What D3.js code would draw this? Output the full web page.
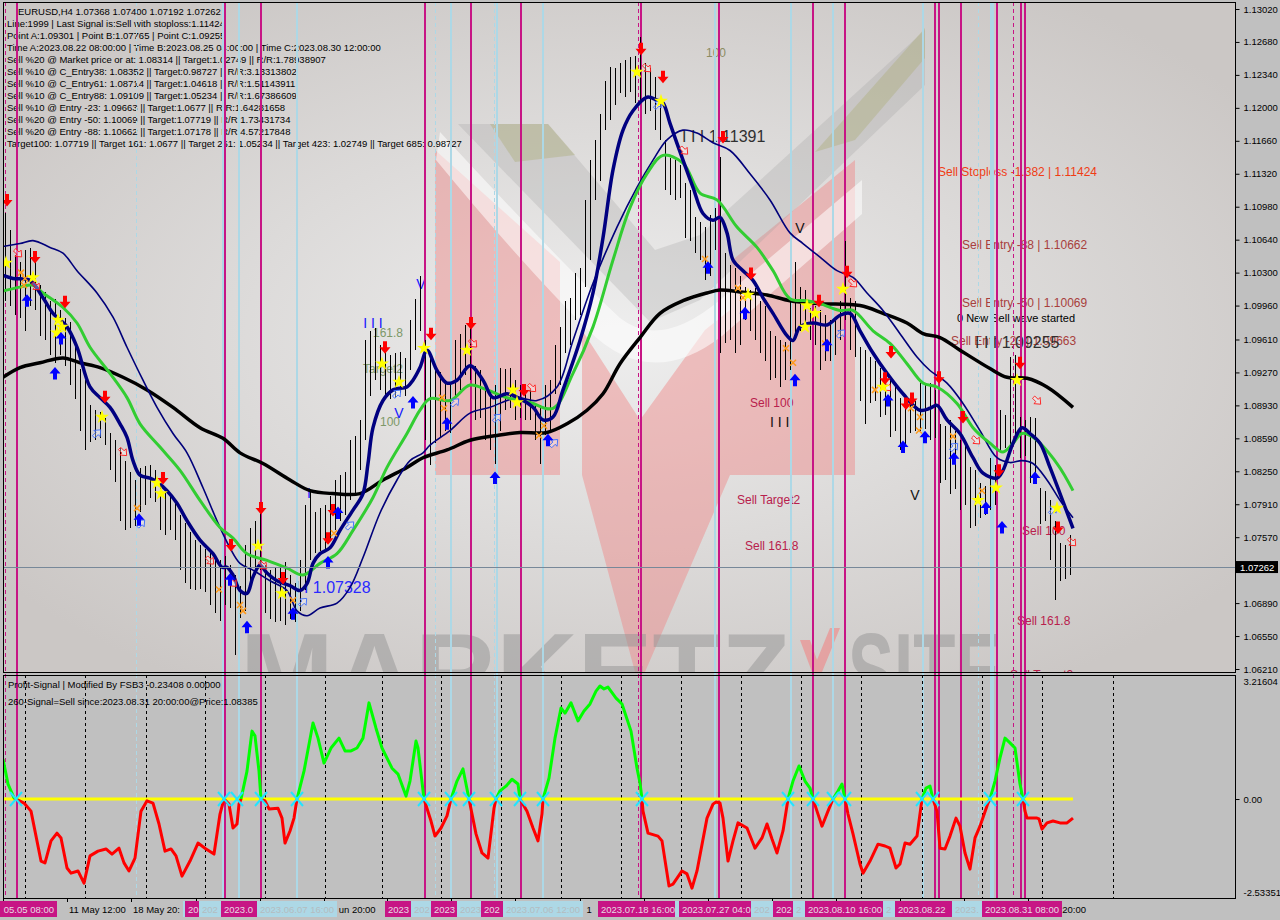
<!DOCTYPE html>
<html>
<head>
<meta charset="utf-8">
<script src="https://cdn.jsdelivr.net/npm/d3@7"></script>
<style>
  body { margin: 0; background: #c0c0c0; }
  svg { display: block; font-family: "Liberation Sans", Arial, sans-serif; }
</style>
</head>
<body>
<div id="chart"></div>
<script>
// ---- price bars (H4, EURUSD), one entry per drawn bar ----
const barHigh = [
  1.1092,1.1074,1.1048,1.1041,1.1053,1.1055,1.1045,1.1017,1.1010,1.1001,
  1.1003,1.0991,1.0983,1.0979,1.0955,1.0931,1.0919,1.0893,1.0888,1.0886,
  1.0880,1.0865,1.0857,1.0849,1.0836,1.0824,1.0816,1.0828,1.0830,1.0831,
  1.0826,1.0814,1.0805,1.0800,1.0795,1.0780,1.0772,1.0762,1.0754,1.0749,
  1.0745,1.0741,1.0735,1.0733,1.0738,1.0728,1.0718,1.0707,1.0749,1.0766,
  1.0774,1.0788,1.0728,1.0723,1.0725,1.0728,1.0731,1.0718,1.0710,1.0733,
  1.0790,1.0805,1.0783,1.0787,1.0790,1.0800,1.0816,1.0821,1.0824,1.0857,
  1.0861,1.0878,1.0960,1.0970,1.0973,1.0955,1.0950,1.0945,1.0947,1.0948,
  1.0942,1.0981,1.1003,1.1027,1.0960,1.0945,1.0929,1.0927,1.0919,1.0917,
  1.0960,1.0967,1.0976,1.0978,1.0934,1.0929,1.0912,1.0909,1.0914,1.0932,
  1.0931,1.0932,1.0919,1.0914,1.0912,1.0909,1.0895,1.0893,1.0914,1.0919,
  1.0955,1.0974,1.1001,1.1004,1.1030,1.1035,1.1105,1.1146,1.1167,1.1194,
  1.1228,1.1242,1.1241,1.1246,1.1249,1.1252,1.1254,1.1273,1.1246,1.1241,
  1.1232,1.1208,1.1167,1.1148,1.1146,1.1141,1.1122,1.1115,1.1087,1.1082,
  1.1077,1.1089,1.1097,1.1149,1.1050,1.1038,1.1035,1.1027,1.1015,1.1012,
  1.1014,1.1001,1.0996,1.0970,1.0965,1.0960,1.0958,1.1001,1.1041,1.1015,
  1.1012,1.0994,1.0996,1.0991,1.0986,1.0981,1.0983,1.1001,1.1063,1.1004,
  1.1001,1.0953,1.0950,1.0943,1.0939,1.0932,1.0929,1.0919,1.0914,1.0901,
  1.0898,1.0901,1.0898,1.0916,1.0914,1.0916,1.0909,1.0874,1.0872,1.0878,
  1.0867,1.0857,1.0852,1.0829,1.0826,1.0813,1.0810,1.0839,1.0831,1.0888,
  1.0883,1.0943,1.0945,1.0881,1.0878,1.0881,1.0880,1.0808,1.0805,1.0795,
  1.0774,1.0751,1.0749,1.0759
];
const barLow = [
  1.1001,1.0996,1.0986,1.0983,1.0970,1.0996,1.0991,1.0965,1.0960,1.0945,
  1.0937,1.0945,1.0934,1.0914,1.0900,1.0867,1.0847,1.0855,1.0857,1.0859,
  1.0852,1.0826,1.0814,1.0774,1.0764,1.0766,1.0769,1.0783,1.0790,1.0797,
  1.0793,1.0764,1.0759,1.0764,1.0754,1.0723,1.0710,1.0704,1.0702,1.0704,
  1.0700,1.0687,1.0679,1.0671,1.0687,1.0684,1.0635,1.0674,1.0681,1.0702,
  1.0718,1.0723,1.0679,1.0673,1.0669,1.0671,1.0666,1.0673,1.0669,1.0681,
  1.0702,1.0733,1.0741,1.0743,1.0745,1.0754,1.0764,1.0774,1.0780,1.0795,
  1.0800,1.0826,1.0857,1.0903,1.0919,1.0909,1.0903,1.0900,1.0902,1.0906,
  1.0903,1.0929,1.0950,1.0970,1.0857,1.0831,1.0854,1.0859,1.0867,1.0864,
  1.0903,1.0909,1.0924,1.0919,1.0878,1.0880,1.0857,1.0847,1.0833,1.0867,
  1.0888,1.0890,1.0878,1.0880,1.0878,1.0878,1.0857,1.0833,1.0862,1.0867,
  1.0905,1.0914,1.0947,1.0955,1.0981,1.0986,1.1015,1.1043,1.1105,1.1125,
  1.1177,1.1187,1.1203,1.1215,1.1211,1.1216,1.1205,1.1208,1.1194,1.1197,
  1.1177,1.1167,1.1115,1.1110,1.1105,1.1107,1.1066,1.1063,1.1050,1.1043,
  1.1022,1.1027,1.1053,1.0947,1.0957,1.0960,1.0947,1.0955,1.0981,1.0970,
  1.0960,1.0947,1.0939,1.0919,1.0921,1.0912,1.0919,1.0929,1.0963,1.0970,
  1.0973,1.0960,1.0955,1.0929,1.0939,1.0939,1.0945,1.0960,1.0981,1.0950,
  1.0943,1.0898,1.0874,1.0895,1.0898,1.0881,1.0883,1.0860,1.0867,1.0847,
  1.0852,1.0864,1.0867,1.0867,1.0869,1.0857,1.0859,1.0813,1.0816,1.0802,
  1.0807,1.0785,1.0790,1.0767,1.0769,1.0777,1.0780,1.0785,1.0790,1.0847,
  1.0849,1.0847,1.0857,1.0839,1.0841,1.0813,1.0816,1.0771,1.0774,1.0733,
  1.0692,1.0712,1.0714,1.0718
];
const lastPrice = 1.07262;

// ---- moving averages: [bar, price] ----
const maFast = [
  [-0.4,1.1027],[1.6,1.1024],[5,1.1022],[7.6,1.1004],[9.6,1.0988],[12.4,1.0974],[14.4,1.0953],
  [17,1.0912],[19,1.0901],[21,1.0891],[23,1.0874],[24.4,1.0860],[25.6,1.0836],[27,1.0821],
  [29,1.0818],[30.4,1.0814],[32.4,1.0805],[34.4,1.0792],[36.4,1.0774],[39,1.0754],[41.6,1.0740],
  [43.4,1.0726],[44.4,1.0726],[45.6,1.0718],[47,1.0702],[48.4,1.0699],[49.6,1.0716],[51,1.0728],
  [52.4,1.0720],[54.4,1.0712],[57,1.0707],[59,1.0702],[60.4,1.0709],[61.6,1.0730],[63,1.0740],
  [65,1.0746],[67,1.0764],[69.6,1.0785],[71.6,1.0802],[72.6,1.0833],[73.6,1.0870],[75.6,1.0898],
  [77.6,1.0909],[80.4,1.0912],[81.6,1.0919],[83,1.0932],[84.4,1.0950],[86.4,1.0929],[88.4,1.0916],
  [90.4,1.0919],[93,1.0934],[95.6,1.0919],[97.6,1.0901],[100.4,1.0905],[102.6,1.0901],[105.6,1.0891],
  [107.6,1.0878],[109.6,1.0881],[111.6,1.0909],[115,1.0960],[117.6,1.1009],[119.6,1.1066],
  [121.6,1.1136],[123.6,1.1177],[125.6,1.1197],[128.4,1.1211],[130.4,1.1208],[131.6,1.1205],
  [133,1.1184],[135.6,1.1146],[137.6,1.1118],[139.6,1.1091],[141.6,1.1084],[143,1.1087],
  [144.4,1.1071],[145.6,1.1043],[147.6,1.1032],[149.6,1.1022],[151.6,1.1004],[153.6,1.0988],
  [156.4,1.0965],[157.6,1.0960],[159,1.0974],[161.6,1.0978],[164.4,1.0976],[167,1.0986],
  [169,1.0988],[171,1.0970],[173.6,1.0947],[176.4,1.0926],[179.6,1.0905],[183,1.0888],
  [185,1.0890],[186.4,1.0893],[188.4,1.0878],[191,1.0864],[193.6,1.0839],[195.6,1.0823],
  [198.4,1.0818],[199.6,1.0826],[201.6,1.0854],[203.4,1.0870],[205,1.0864],[207,1.0854],
  [209,1.0829],[211,1.0802],[213.6,1.0766]
];
const maMid = [
  [-0.4,1.1011],[3,1.1015],[5.6,1.1017],[7.6,1.1009],[11.6,1.0994],[14.4,1.0978],[17,1.0953],
  [21,1.0926],[24.4,1.0901],[27,1.0874],[31,1.0850],[35,1.0826],[39,1.0795],[43,1.0767],
  [45.6,1.0756],[48.4,1.0740],[52.4,1.0733],[56.4,1.0725],[59.6,1.0718],[63,1.0730],[66.4,1.0740],
  [69.6,1.0764],[73.6,1.0798],[76.4,1.0829],[80.4,1.0864],[83,1.0888],[85,1.0900],[89,1.0898],
  [93,1.0914],[96.4,1.0909],[100.4,1.0901],[105,1.0896],[109.6,1.0890],[113.6,1.0926],
  [117.6,1.0974],[121.6,1.1043],[125,1.1097],[128.4,1.1132],[131.6,1.1151],[135.6,1.1143],
  [139,1.1112],[142.4,1.1105],[146.4,1.1077],[150.4,1.1056],[153.6,1.1032],[157,1.1003],
  [160.4,1.1001],[163,1.0998],[167,1.0991],[169.6,1.0991],[173.6,1.0970],[177,1.0957],
  [180.4,1.0936],[183.6,1.0916],[186.4,1.0912],[190.4,1.0895],[193.6,1.0870],[197,1.0854],
  [199.6,1.0845],[201.6,1.0854],[203.4,1.0864],[205.6,1.0860],[210.4,1.0833],[213.6,1.0805]
];
const maBand = [
  [-0.4,1.1057],[3,1.1060],[5.6,1.1063],[9,1.1056],[11.6,1.1050],[14.4,1.1032],[18.4,1.1009],
  [21.6,1.0984],[24.4,1.0953],[27.6,1.0919],[30.4,1.0891],[33.6,1.0864],[36.4,1.0844],
  [39.6,1.0808],[42.4,1.0774],[45,1.0746],[47,1.0730],[49.6,1.0723],[53,1.0712],[56.4,1.0702],
  [58.4,1.0681],[60.4,1.0676],[63,1.0684],[66.4,1.0689],[69,1.0705],[71.6,1.0736],[75,1.0782],
  [78.4,1.0816],[81,1.0836],[83.6,1.0844],[85,1.0852],[89,1.0867],[93,1.0885],[97,1.0891],
  [102.4,1.0901],[106.4,1.0898],[110.4,1.0912],[113.6,1.0960],[117.6,1.1019],[122.4,1.1077],
  [126.4,1.1118],[129.6,1.1146],[132.4,1.1167],[135.6,1.1177],[138.4,1.1174],[141.6,1.1164],
  [145,1.1156],[149,1.1132],[153,1.1105],[157,1.1071],[159.6,1.1060],[163,1.1046],[166.4,1.1032],
  [169.6,1.1025],[172.4,1.1009],[175.6,1.0991],[179,1.0967],[182.4,1.0943],[185,1.0929],
  [188.4,1.0916],[191.6,1.0895],[195,1.0867],[198.4,1.0839],[201,1.0834],[203.4,1.0836],
  [205.6,1.0833],[208.4,1.0816],[211,1.0795],[213.6,1.0777]
];
const maSlow = [
  [-0.4,1.0922],[3,1.0932],[7,1.0937],[11.6,1.0942],[15,1.0937],[19,1.0932],[23.6,1.0922],
  [28.4,1.0909],[33.6,1.0891],[39,1.0870],[43.6,1.0859],[47,1.0844],[51.6,1.0833],[57,1.0816],
  [61,1.0805],[65.6,1.0802],[71,1.0802],[75.6,1.0816],[80.4,1.0829],[83.6,1.0839],[88.4,1.0847],
  [93,1.0857],[98.4,1.0862],[103,1.0865],[108.4,1.0865],[112.4,1.0874],[116.4,1.0888],
  [119.6,1.0905],[123,1.0936],[127,1.0963],[131,1.0988],[135.6,1.1001],[140.4,1.1009],
  [143,1.1012],[147,1.1010],[152.4,1.1007],[157,1.1001],[163,1.0998],[171,1.0996],
  [175.6,1.0988],[180.4,1.0978],[183.6,1.0967],[187,1.0963],[191,1.0950],[197,1.0931],
  [200.4,1.0922],[204.4,1.0921],[208.4,1.0912],[213.6,1.0891]
];

// ---- signal markers: [bar, price] ----
const sellArrows = [
  [0.4,1.1105],[6,1.1046],[12,1.1000],[20,1.0902],[31.6,1.0818],[45.2,1.0749],[51.2,1.0787],
  [55.6,1.0715],[64.6,1.0756],[65.6,1.0785],[76,1.0953],[85.2,1.0967],[93.2,1.0978],[103.8,1.0909],
  [127.2,1.1261],[131.6,1.1232],[143.6,1.1170],[149.2,1.1029],[162.8,1.1001],[168.4,1.1031],
  [176,1.0921],[177.2,1.0948],[180.2,1.0895],[181.4,1.0900],[186.8,1.0922],[191.6,1.0881],
  [198.8,1.0826],[203,1.0937],[210.6,1.0767]
];
const buyArrows = [
  [4.4,1.1001],[10,1.0926],[11.2,1.0962],[26.8,1.0775],[45,1.0713],[48.4,1.0664],[57.6,1.0678],
  [64.6,1.0731],[66.6,1.0782],[81.6,1.0896],[88.4,1.0874],[98,1.0818],[108.6,1.0857],
  [140.6,1.1035],[148,1.0988],[158,1.0919],[164.4,1.0955],[176.6,1.0898],[179.6,1.0850],
  [184,1.0860],[189.8,1.0838],[196.2,1.0787],[199.4,1.0767],[206,1.0818]
];
const stars = [
  [0.2,1.1040],[5.6,1.1025],[10.6,1.0981],[11.4,1.0974],[10.4,1.0968],[19.4,1.0881],[30.4,1.0813],
  [31.2,1.0802],[50.6,1.0748],[55.4,1.0699],[75.4,1.0936],[78.8,1.0917],[83.8,1.0952],[92.4,1.0950],
  [101.6,1.0909],[102.4,1.0896],[126.4,1.1237],[131.2,1.1207],[148.6,1.1007],[160,1.0974],
  [160.4,1.0996],[162,1.0988],[167.6,1.1013],[175.6,1.0912],[194.6,1.0795],[198.2,1.0808],
  [202.4,1.0919],[210.4,1.0787]
];
const crosses = [
  [3.2,1.1030],[3.8,1.1017],[4,1.1024],[26.4,1.0787],[42.8,1.0703],[47,1.0687],[47.6,1.0681],
  [57.6,1.0692],[65.8,1.0761],[87.4,1.0901],[87.8,1.0890],[106.8,1.0862],[107.8,1.0872],
  [140,1.1044],[146.6,1.1014],[147.6,1.1004],[156.2,1.0952],[157.6,1.0937],[164,1.0957],
  [174,1.0909],[181.2,1.0890],[182.8,1.0867],[183,1.0881],[189.6,1.0861],[195.4,1.0805]
];
const sellHollow = [
  [2.6,1.1050],[6.2,1.1016],[23.6,1.0845],[41,1.0733],[45.6,1.0710],[51.6,1.0728],[93.6,1.0957],
  [105.4,1.0911],[128.4,1.1241],[135.8,1.1156],[169.6,1.1019],[176.4,1.0912],[194.2,1.0857],
  [206.4,1.0898],[213.4,1.0752]
];
const buyHollow = [
  [18.4,1.0864],[27.2,1.0771],[59.6,1.0690],[69,1.0769],[78.4,1.0905],[90,1.0896],[98.4,1.0880],
  [109.8,1.0854],[130.6,1.1203],[167.2,1.0967],[189.8,1.0850],[209.6,1.0785]
];

// ---- chart notes: [bar, price, text, kind] ----
const chartNotes = [
  [142.2,1.1252,"100","olive"],
  [135.4,1.1165,"I I I 1.11391","level"],
  [159,1.1071,"V","mark"],
  [60.8,1.0797,"I","blueMark"],
  [83.2,1.1013,"V","blueMark"],
  [73.6,1.0973,"I I I","blueMark"],
  [76.6,1.0964,"161.8","fibo"],
  [75.6,1.0926,"Target2","fibo"],
  [77,1.0872,"100","fibo"],
  [78.8,1.0880,"V","blueMark"],
  [58,1.0699,"I I 1.07328","blueLevel"],
  [186.6,1.1130,"Sell Stoploss -1.382 | 1.11424","stop"],
  [191.4,1.1054,"Sell Entry -88 | 1.10662","entry"],
  [191.4,1.0995,"Sell Entry -50 | 1.10069","entry"],
  [190.4,1.0979,"0 New Sell wave started","wave"],
  [189.2,1.0955,"Sell Entry -23 | 1.09663","entry"],
  [194,1.0952,"I I I 1.09255","level"],
  [149,1.0891,"Sell 100","sell"],
  [153,1.0871,"I I I","ticks"],
  [146.4,1.0791,"Sell Target2","sell"],
  [148,1.0744,"Sell 161.8","sell"],
  [182,1.0795,"V","mark"],
  [203.4,1.0759,"Sell 100","sell"],
  [202.4,1.0666,"Sell 161.8","sell"],
  [201,1.0611,"Sell Target2","sell"]
];
const noteStyle = {
  olive:     { fill: "#8c8c62", size: 12, anchor: "middle" },
  level:     { fill: "#303030", size: 16, anchor: "start" },
  mark:      { fill: "#111111", size: 14, anchor: "middle" },
  ticks:     { fill: "#111111", size: 14, anchor: "start" },
  blueMark:  { fill: "#1515ff", size: 14, anchor: "middle" },
  blueLevel: { fill: "#2a2aff", size: 16, anchor: "start" },
  fibo:      { fill: "#7d9868", size: 12, anchor: "middle" },
  stop:      { fill: "#f03c14", size: 12, anchor: "start" },
  entry:     { fill: "#a8403c", size: 12, anchor: "start" },
  wave:      { fill: "#000000", size: 11, anchor: "start" },
  sell:      { fill: "#b8204c", size: 12, anchor: "start" }
};

const headerTitle = "EURUSD,H4  1.07368 1.07400 1.07192 1.07262";
const headerLines = [
  "Line:1999 | Last Signal is:Sell with stoploss:1.11424",
  "Point A:1.09301 | Point B:1.07765 | Point C:1.09255",
  "Time A:2023.08.22 08:00:00 | Time B:2023.08.25 04:00:00 | Time C:2023.08.30 12:00:00",
  "Sell %20 @ Market price or at: 1.08314 || Target:1.02749 || R/R:1.78938907",
  "Sell %10 @ C_Entry38: 1.08352 || Target:0.98727 || R/R:3.13313802",
  "Sell %10 @ C_Entry61: 1.08714 || Target:1.04618 || R/R:1.51143911",
  "Sell %10 @ C_Entry88: 1.09109 || Target:1.05234 || R/R:1.67386609",
  "Sell %10 @ Entry -23: 1.09663 || Target:1.0677 || R/R:1.64281658",
  "Sell %20 @ Entry -50: 1.10069 || Target:1.07719 || R/R:1.73431734",
  "Sell %20 @ Entry -88: 1.10662 || Target:1.07178 || R/R:4.57217848",
  "Target100: 1.07719 || Target 161: 1.0677 || Target 261: 1.05234 || Target 423: 1.02749 || Target 685: 0.98727"
];

// ---- vertical lines (bar positions) ----
const magentaLines = [2.4,44,51.2,84,93.2,103.2,127.2,142.8,161.6,168,186,186.8,191.2,198.4,203.2,204];
const magentaDashed = [0,126.6,201.6];
const cyanLines = [43.6,46.8,58.4,89.2,98.4,107.6,142,157.2,165.6,183.6];
const cyanWide = [197.4];
const cyanDashed = [26.2,86,97.8,194.6];
const weekSeparators = [4,16,28.2,40,52,64,75.4,87.2,99.2,111.2,123.2,135.2,147.2,159.2,171.2,183.4,195.4,207.4,221.6];

// labels of the vertical lines on the time axis: [bar, text, colour]
const lineLabels = [
  [2.4,"2023.05.05 08:00","m"],[43.6,"2023.05.31 08:00","c"],[44,"2023.05.31 12:00","m"],
  [46.8,"2023.06.01 16:00","c"],[51.2,"2023.06.02 08:00","m"],[58.4,"2023.06.07 16:00","c"],
  [84,"2023.06.22 12:00","m"],[89.2,"2023.06.26 16:00","c"],[93.2,"2023.06.28 12:00","m"],
  [98.4,"2023.06.30 20:00","c"],[103.2,"2023.07.04 16:00","m"],[107.6,"2023.07.06 12:00","c"],
  [126.6,"2023.07.18 16:00","m"],[142,"2023.07.26 20:00","c"],[142.8,"2023.07.27 04:00","m"],
  [157.2,"2023.08.03 12:00","c"],[161.6,"2023.08.07 12:00","m"],[165.6,"2023.08.09 08:00","c"],
  [168,"2023.08.10 16:00","m"],[183.6,"2023.08.18 20:00","c"],[186,"2023.08.22 04:00","m"],
  [197.4,"2023.08.28 08:00","c"],[203.4,"2023.08.31 08:00","m"]
];
const timeTickIdx = [-0.4,12.4,25.2,38.2,51,63.8,76.4,89.2,102,115,127.8,140.6,153.4,166.2,179,191.8,204.6];
const timeTickText = ["5 May 2023","11 May 12:00","18 May 20:00","26 May 04:00","2 Jun 12:00","9 Jun 20:00",
  "19 Jun 04:00","26 Jun 12:00","3 Jul 20:00","11 Jul 04:00","18 Jul 12:00","25 Jul 20:00",
  "2 Aug 04:00","9 Aug 12:00","16 Aug 20:00","24 Aug 04:00","31 Aug 20:00"];

const priceTicks = [1.1302,1.1268,1.1234,1.1200,1.1166,1.1132,1.1098,1.1064,1.1030,1.0996,
  1.0961,1.0927,1.0893,1.0859,1.0825,1.0791,1.0757,1.0689,1.0655,1.0621];

// ---- Profit-Signal oscillator: [bar, value] ----
const signalLine = [
  [-0.4,1.09],[0.6,0.41],[1.8,0.03],[2.2,0],[3.8,-0.11],[5.2,-0.33],[7.2,-1.69],[8,-1.74],
  [9.2,-1.14],[10.4,-0.93],[11.2,-1.06],[12.4,-1.88],[13.2,-2.02],[14.6,-1.96],[15.8,-2.29],
  [17,-1.55],[18.6,-1.42],[20.2,-1.36],[21.4,-1.50],[22.8,-1.34],[23.8,-1.74],[24.8,-1.96],
  [26,-1.61],[27.2,-0.33],[28.4,-0.05],[29.6,-0.11],[30.8,-0.68],[32,-1.42],[33.2,-1.36],
  [34.2,-1.55],[35.4,-2.10],[37,-1.69],[38.6,-1.20],[40.2,-1.36],[41.8,-1.50],[43,-0.41],
  [43.8,0],[44.8,-0.14],[45.6,-0.79],[46.4,-0.68],[46.8,-0.14],[47.2,0],[48.4,0.76],[49.4,1.85],
  [50,1.72],[50.8,0.76],[51.2,0],[52,-0.05],[52.8,-0.27],[54.6,-0.25],[55.4,-0.52],[56,-1.20],
  [57,-0.87],[57.8,-0.52],[58.4,0],[59.8,0.76],[61.6,2.07],[62.6,1.66],[63.8,0.98],[65.2,1.39],
  [66.8,1.66],[68,1.31],[69.2,1.31],[70.4,1.39],[71.6,1.66],[72.8,2.62],[74.2,1.93],[75.4,1.39],
  [77.4,0.84],[78.6,0.68],[80.2,0.08],[81,0.49],[82.2,1.58],[82.6,1.39],[83.8,0],[85.2,-0.60],
  [86,-1.01],[87.2,-0.79],[88.4,-0.46],[89.2,0],[90.4,0.49],[91.6,0.82],[92.8,0],[94.2,-0.95],
  [95.4,-1.47],[96.6,-1.61],[97.8,-0.25],[98.2,0],[99,0.22],[100.2,0.35],[101.4,0.54],
  [102.6,0.41],[103,0],[104.4,-0.33],[105.6,-0.79],[106.6,-1.14],[107.4,-0.41],[107.6,0],
  [108.8,0.57],[110,1.66],[111.2,2.48],[112,2.34],[113.2,2.62],[114.6,2.13],[115.8,2.40],
  [117,2.59],[118.2,2.94],[119,3.08],[119.8,3.00],[120.6,3.05],[122.2,2.75],[123.4,2.59],
  [125.2,1.85],[126.4,0.84],[127,0.44],[127.4,0],[127.6,-0.33],[128.6,-0.93],[130.6,-1.01],
  [131.4,-1.14],[132.8,-2.37],[133.6,-2.32],[135.4,-1.96],[136.4,-2.04],[137.4,-2.43],
  [138.4,-1.96],[140.4,-0.52],[141.6,-0.14],[142.2,-0.08],[143,-0.11],[143.6,-0.52],
  [144.6,-1.69],[145.6,-1.14],[146.6,-0.65],[148.4,-0.79],[150,-1.34],[151.4,-1.06],
  [152.4,-0.68],[153.4,-1.09],[154.4,-1.47],[155.6,-0.87],[156.6,0],[157.6,0.49],[158.8,0.90],
  [160,0.49],[161,0.30],[161.6,0],[162.4,-0.33],[163.4,-0.74],[164.6,-0.33],[165.6,0],
  [166.6,0.22],[167.4,0.41],[168,0],[168.6,-0.41],[169.6,-0.95],[171,-1.77],[171.6,-2.02],
  [173,-1.69],[174.6,-1.23],[176,-1.28],[177,-1.34],[178.2,-1.88],[179,-1.77],[180,-1.20],
  [181,-1.23],[182.4,-1.01],[183.4,0],[184.2,0.30],[185,0.35],[185.6,0],[186.4,-0.33],
  [187,-1.34],[188,-1.36],[189,-1.01],[190.2,-0.52],[191,-0.74],[192,-1.47],[193,-1.91],
  [194,-1.06],[195,-0.74],[196.6,-0.11],[197,0],[198,0.49],[199,1.12],[200,1.66],[201,1.53],
  [202,1.39],[203,0.41],[203.6,0],[204,-0.33],[204.4,-0.52],[206.4,-0.52],[206.8,-0.54],
  [207.4,-0.82],[208.4,-0.65],[209.6,-0.60],[211,-0.65],[212.4,-0.65],[213.6,-0.52]
];
const signalCrosses = [2.2,43.8,46.4,51.2,58.4,83.8,89.2,92.8,98.2,103,107.6,127.4,156.6,161.6,165.6,168,183.4,185.6,197,203.6];
const subTicks = [3.21604, 0, -2.53351];
const subTitle = "Profit-Signal | Modified By FSB3 -0.23408 0.00000";
const subStatus = "260-Signal=Sell since:2023.08.31 20:00:00@Price:1.08385";

// ---------------------------------------------------------------
const W = 1280, H = 920;
const L = 3, R = 1235, mainTop = 2, mainBottom = 672, subTop = 675, subBottom = 898;

const x = d3.scaleLinear().domain([0, 213]).range([5, 1070]);
const yMain = d3.scaleLinear().domain([1.0621, 1.1302]).range([669, 9]);
const ySub = d3.scaleLinear().domain([-2.53351, 3.21604]).range([892, 681]);

const svg = d3.select("#chart").append("svg").attr("width", W).attr("height", H);
const defs = svg.append("defs");

const grad = defs.append("radialGradient").attr("id", "bgGrad")
  .attr("cx", "50%").attr("cy", "50%").attr("r", "62%");
grad.append("stop").attr("offset", "0%").attr("stop-color", "#eeeeee");
grad.append("stop").attr("offset", "100%").attr("stop-color", "#cbc7c5");

defs.append("clipPath").attr("id", "mainClip").append("rect")
  .attr("x", L).attr("y", mainTop).attr("width", R - L).attr("height", mainBottom - mainTop);
defs.append("clipPath").attr("id", "upClip").append("rect")
  .attr("x", L).attr("y", subTop).attr("width", R - L).attr("height", ySub(0) - subTop);
defs.append("clipPath").attr("id", "downClip").append("rect")
  .attr("x", L).attr("y", ySub(0)).attr("width", R - L).attr("height", subBottom - ySub(0));

svg.append("rect").attr("width", W).attr("height", H).attr("fill", "#c0c0c0");
svg.append("rect").attr("x", L).attr("y", mainTop).attr("width", R - L)
  .attr("height", mainBottom - mainTop).attr("fill", "url(#bgGrad)");
svg.append("rect").attr("x", L).attr("y", subTop).attr("width", R - L)
  .attr("height", subBottom - subTop).attr("fill", "#c0c0c0");

// background logo of the chart template
const wm = svg.append("g").attr("clip-path", "url(#mainClip)");
const pink = "#f08585";
wm.append("path").attr("d", "M435,150L560,262L560,475L435,475Z").attr("fill", pink).attr("opacity", 0.45);
wm.append("path").attr("d", "M730,262L855,160L855,475L730,475Z").attr("fill", pink).attr("opacity", 0.45);
wm.append("path").attr("d", "M582,330L640,420L705,330L730,310L730,475L645,672L635,672L582,475Z")
  .attr("fill", pink).attr("opacity", 0.45);
wm.append("path").attr("d", "M458,124L548,124L655,250L700,235L925,30L925,85L700,300L650,322Z")
  .attr("fill", "#9a9a9a").attr("opacity", 0.25);
wm.append("path").attr("d", "M490,124L548,124L575,155L515,162Z").attr("fill", "#b0b080").attr("opacity", 0.45);
wm.append("path").attr("d", "M815,152L925,28L925,58L855,140Z").attr("fill", "#b0b080").attr("opacity", 0.45);
wm.append("path").attr("d", "M440,132Q560,262 620,318Q660,350 720,300L862,180L862,214L722,336Q650,392 588,330Q520,262 436,160Z")
  .attr("fill", "#ffffff").attr("opacity", 0.55);
// big faded lettering, scaled vertically so its box stays narrow
wm.append("text").attr("transform", "translate(240,711) scale(1,1.6)").attr("font-size", 69)
  .attr("font-weight", "bold").attr("textLength", 550).attr("lengthAdjust", "spacingAndGlyphs")
  .attr("fill", "#959595").attr("opacity", 0.5).text("MARKETZ");
wm.append("path").attr("d", "M800,640L812,672L822,672L840,628L830,628L817,660L810,640Z")
  .attr("fill", pink).attr("opacity", 0.6);
wm.append("text").attr("transform", "translate(848,711) scale(1,1.6)").attr("font-size", 69)
  .attr("font-weight", "bold").attr("fill", "#959595").attr("opacity", 0.5).text("SITE");

// header text block
const head = svg.append("g").attr("font-size", 9.5).attr("fill", "#000");
head.append("text").attr("x", 18).attr("y", 15).text(headerTitle);
head.selectAll("text.hl").data(headerLines).join("text").attr("class", "hl")
  .attr("x", 7).attr("y", (d, i) => 27 + i * 12).text(d => d);

// chart notes
const notes = svg.append("g").attr("clip-path", "url(#mainClip)");
notes.selectAll("text").data(chartNotes).join("text")
  .attr("x", d => x(d[0])).attr("y", d => yMain(d[1]))
  .attr("font-size", d => noteStyle[d[3]].size)
  .attr("text-anchor", d => noteStyle[d[3]].anchor)
  .attr("fill", d => noteStyle[d[3]].fill)
  .text(d => d[2]);

// vertical lines through both panels
const vg = svg.append("g").attr("shape-rendering", "crispEdges");
function vlines(data, color, width, dash) {
  vg.append("g").selectAll("line").data(data).join("line")
    .attr("x1", d => Math.round(x(d))).attr("x2", d => Math.round(x(d)))
    .attr("y1", mainTop).attr("y2", subBottom)
    .attr("stroke", color).attr("stroke-width", width)
    .attr("stroke-dasharray", dash);
}
vlines(cyanDashed, "#add8e6", 1, "4,3");
vlines(magentaDashed, "#c71585", 1, "4,3");
vlines(cyanLines, "#add8e6", 2, null);
vlines(cyanWide, "#add8e6", 4, null);
vlines(magentaLines, "#c71585", 2, null);

// price bars
svg.append("g").attr("clip-path", "url(#mainClip)").attr("shape-rendering", "crispEdges")
  .selectAll("line").data(barHigh).join("line")
  .attr("x1", (d, i) => Math.round(x(i)) + 0.5).attr("x2", (d, i) => Math.round(x(i)) + 0.5)
  .attr("y1", d => yMain(d)).attr("y2", (d, i) => yMain(barLow[i]))
  .attr("stroke", "#000").attr("stroke-width", 1);

// moving averages
const maLine = d3.line().x(d => x(d[0])).y(d => yMain(d[1])).curve(d3.curveCatmullRom.alpha(0.5));
const maG = svg.append("g").attr("clip-path", "url(#mainClip)").attr("fill", "none")
  .attr("stroke-linejoin", "round");
maG.append("path").attr("d", maLine(maSlow)).attr("stroke", "#000").attr("stroke-width", 3.5);
maG.append("path").attr("d", maLine(maBand)).attr("stroke", "#00007a").attr("stroke-width", 1.6);
maG.append("path").attr("d", maLine(maMid)).attr("stroke", "#32cd32").attr("stroke-width", 3);
maG.append("path").attr("d", maLine(maFast)).attr("stroke", "#000080").attr("stroke-width", 3.5);

// markers
const mk = svg.append("g").attr("clip-path", "url(#mainClip)");
const arrowDown = "M-2,-6H2V0H5.5L0,6.5L-5.5,0H-2Z";
const arrowUp = "M-2,6H2V0H5.5L0,-6.5L-5.5,0H-2Z";
const pos = d => `translate(${x(d[0])},${yMain(d[1])})`;
mk.append("g").selectAll("path").data(crosses).join("path")
  .attr("transform", pos).attr("d", "M-3,-3L3,3M-3,3L3,-3")
  .attr("stroke", "#ff9a1a").attr("stroke-width", 1.5).attr("fill", "none");
mk.append("g").selectAll("path").data(sellHollow).join("path")
  .attr("transform", d => pos(d) + " rotate(-45) scale(0.8)").attr("d", arrowDown)
  .attr("fill", "rgba(255,255,255,0.35)").attr("stroke", "#ff1a1a").attr("stroke-width", 1.1);
mk.append("g").selectAll("path").data(buyHollow).join("path")
  .attr("transform", d => pos(d) + " rotate(45) scale(0.8)").attr("d", arrowUp)
  .attr("fill", "rgba(255,255,255,0.35)").attr("stroke", "#3a6cff").attr("stroke-width", 1.1);
mk.append("g").selectAll("path").data(stars).join("path")
  .attr("transform", pos).attr("d", d3.symbol(d3.symbolStar, 60)).attr("fill", "#ffff00");
mk.append("g").selectAll("path").data(sellArrows).join("path")
  .attr("transform", pos).attr("d", arrowDown).attr("fill", "#ff0000");
mk.append("g").selectAll("path").data(buyArrows).join("path")
  .attr("transform", pos).attr("d", arrowUp).attr("fill", "#0000ff");

// last price line
svg.append("line").attr("x1", L).attr("x2", R)
  .attr("y1", Math.round(yMain(lastPrice)) + 0.5).attr("y2", Math.round(yMain(lastPrice)) + 0.5)
  .attr("stroke", "#778899").attr("stroke-width", 1);

// ---- oscillator panel ----
const sub = svg.append("g");
sub.append("g").selectAll("line").data(weekSeparators).join("line")
  .attr("x1", d => Math.round(x(d)) + 0.5).attr("x2", d => Math.round(x(d)) + 0.5)
  .attr("y1", subTop).attr("y2", subBottom)
  .attr("stroke", "#000").attr("stroke-width", 1).attr("stroke-dasharray", "3,3")
  .attr("shape-rendering", "crispEdges");
sub.append("line").attr("x1", x(-0.4)).attr("x2", x(213.6))
  .attr("y1", ySub(0)).attr("y2", ySub(0)).attr("stroke", "#ffff00").attr("stroke-width", 3);
const sigLine = d3.line().x(d => x(d[0])).y(d => ySub(d[1]));
sub.append("path").attr("d", sigLine(signalLine)).attr("clip-path", "url(#upClip)")
  .attr("fill", "none").attr("stroke", "#00ff00").attr("stroke-width", 3).attr("stroke-linejoin", "round");
sub.append("path").attr("d", sigLine(signalLine)).attr("clip-path", "url(#downClip)")
  .attr("fill", "none").attr("stroke", "#ff0000").attr("stroke-width", 3).attr("stroke-linejoin", "round");
sub.append("g").selectAll("path").data(signalCrosses).join("path")
  .attr("transform", d => `translate(${x(d)},${ySub(0)})`)
  .attr("d", "M-6,-7L6,7M-6,7L6,-7")
  .attr("stroke", "#22e4ff").attr("stroke-width", 2).attr("fill", "none");
sub.append("text").attr("x", 8).attr("y", 688).attr("font-size", 9.5).text(subTitle);
sub.append("text").attr("x", 8).attr("y", 705).attr("font-size", 9.5).text(subStatus);

// panel borders
svg.append("rect").attr("x", L + 0.5).attr("y", mainTop + 0.5).attr("width", R - L)
  .attr("height", mainBottom - mainTop).attr("fill", "none").attr("stroke", "#000");
svg.append("rect").attr("x", L + 0.5).attr("y", subTop + 0.5).attr("width", R - L)
  .attr("height", subBottom - subTop).attr("fill", "none").attr("stroke", "#000");

// price axis
const axisStyle = g => {
  g.select(".domain").remove();
  g.selectAll(".tick line").attr("stroke", "#000");
  g.selectAll(".tick text").attr("font-family", "Liberation Sans, Arial, sans-serif")
    .attr("font-size", 9.5).attr("fill", "#000");
};
svg.append("g").attr("transform", `translate(${R + 0.5},0)`)
  .call(d3.axisRight(yMain).tickValues(priceTicks).tickSize(4).tickPadding(4).tickFormat(d3.format(".5f")))
  .call(axisStyle);
svg.append("g").attr("transform", `translate(${R + 0.5},0)`)
  .call(d3.axisRight(ySub).tickValues(subTicks).tickSize(4).tickPadding(4)
    .tickFormat(d => d === 0 ? "0.00" : d.toFixed(5)))
  .call(axisStyle)
  .call(g => g.selectAll(".tick").filter(d => d !== 0).select("line").remove());
svg.append("rect").attr("x", R + 1).attr("y", yMain(lastPrice) - 6).attr("width", 42).attr("height", 12)
  .attr("fill", "#000");
svg.append("text").attr("x", R + 5).attr("y", yMain(lastPrice) + 3.5).attr("font-size", 9.5)
  .attr("fill", "#fff").text(lastPrice.toFixed(5));

// ---- time axis: regular ticks, then the coloured line labels on top ----
const boxW = 80;
const boxLeft = lineLabels.map(d => x(d[0]) - boxW / 2);

// keep only the part of a text that is not hidden under a box drawn above it
function keepVisible(sel, covers, minX) {
  const node = sel.node();
  const str = sel.text();
  let first = -1, last = -1;
  for (let j = 0; j < str.length; j++) {
    const a = node.getStartPositionOfChar(j).x, b = node.getEndPositionOfChar(j).x;
    const hidden = a < minX || covers.some(c => b > c[0] + 0.5 && a < c[1] - 0.5);
    if (!hidden) { if (first < 0) first = j; last = j; }
    else if (first >= 0) break;
  }
  if (first < 0) { sel.remove(); return; }
  const x0 = node.getStartPositionOfChar(first).x;
  sel.attr("text-anchor", "start").attr("x", x0).text(str.slice(first, last + 1));
}

const tAxis = svg.append("g").attr("font-size", 9.5);
tAxis.selectAll("line").data(timeTickIdx).join("line")
  .attr("x1", d => Math.round(x(d)) + 0.5).attr("x2", d => Math.round(x(d)) + 0.5)
  .attr("y1", subBottom).attr("y2", subBottom + 4).attr("stroke", "#000");
const allCovers = boxLeft.map(b => [b, b + boxW]);
timeTickIdx.forEach((d, i) => {
  const t = tAxis.append("text").attr("x", x(d) + 2).attr("y", 913).attr("fill", "#000").text(timeTickText[i]);
  keepVisible(t, allCovers, L);
});

const boxes = svg.append("g").attr("font-size", 9.5);
lineLabels.forEach((d, k) => {
  const cx = x(d[0]);
  boxes.append("rect").attr("x", boxLeft[k]).attr("y", 901).attr("width", boxW).attr("height", 16)
    .attr("fill", d[2] === "m" ? "#c71585" : "#add8e6");
  const t = boxes.append("text").attr("x", cx).attr("y", 913).attr("text-anchor", "middle")
    .attr("fill", d[2] === "m" ? "#e8dce4" : "#b4bcc0").text(d[1]);
  const above = boxLeft.slice(k + 1).map(b => [b, b + boxW]);
  keepVisible(t, above, L);
});
</script>
</body>
</html>
